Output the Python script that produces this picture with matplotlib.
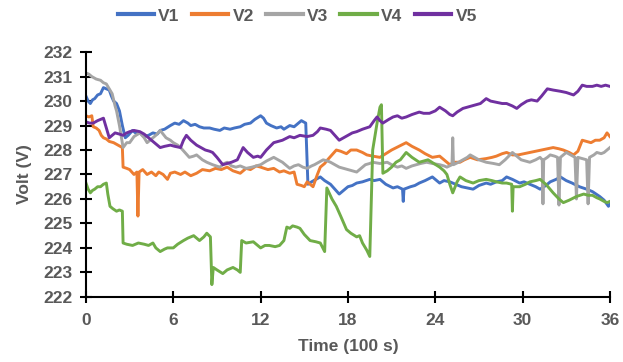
import matplotlib
matplotlib.use("Agg")
import matplotlib.pyplot as plt

plt.rcParams['font.family'] = ['Liberation Sans', 'DejaVu Sans']

# (time in 100 s, voltage in V)
v1_pts = [(0, 230.2), (0.15, 230.0), (0.3, 229.9), (0.45, 230.05), (0.6, 230.1), (0.8, 230.25),
          (1.0, 230.3), (1.2, 230.55), (1.4, 230.5), (1.6, 230.45), (1.75, 230.2), (1.9, 230.0),
          (2.1, 229.9), (2.3, 229.6), (2.5, 229.0), (2.7, 228.5), (2.9, 228.6), (3.2, 228.8),
          (3.5, 228.65), (3.7, 228.7), (4.0, 228.55), (4.3, 228.6), (4.6, 228.7), (4.9, 228.65),
          (5.1, 228.8), (5.4, 228.85), (5.8, 229.0), (6.1, 229.1), (6.4, 229.05), (6.7, 229.2),
          (7.0, 229.1), (7.2, 229.0), (7.5, 229.05), (7.8, 228.95), (8.1, 228.9), (8.5, 228.9),
          (8.8, 228.85), (9.2, 228.8), (9.5, 228.9), (9.9, 228.85), (10.2, 228.9), (10.6, 228.95),
          (10.9, 229.05), (11.3, 229.1), (11.6, 229.25), (12.0, 229.4), (12.2, 229.3), (12.4, 229.1),
          (12.7, 229.0), (13.1, 228.9), (13.4, 228.95), (13.6, 228.85), (14.0, 229.0), (14.3, 228.95),
          (14.5, 229.05), (14.8, 229.2), (15.1, 229.1), (15.25, 226.6), (15.5, 226.7), (15.8, 226.8),
          (16.1, 226.9), (16.4, 226.75), (16.8, 226.6), (17.1, 226.4), (17.4, 226.2), (17.7, 226.35),
          (18.0, 226.5), (18.3, 226.55), (18.6, 226.65), (19.0, 226.7), (19.5, 226.8), (19.8, 226.75),
          (20.2, 226.8), (20.6, 226.6), (21.1, 226.45), (21.4, 226.5), (21.75, 226.4), (21.8, 225.9),
          (21.85, 226.4), (22.3, 226.5), (22.6, 226.55), (22.9, 226.65), (23.3, 226.75), (23.8, 226.9),
          (24.3, 226.65), (24.6, 226.75), (25.0, 226.7), (25.4, 226.6), (25.8, 226.5), (26.2, 226.45),
          (26.6, 226.4), (27.0, 226.55), (27.5, 226.65), (27.8, 226.6), (28.2, 226.7), (28.6, 226.75),
          (28.9, 226.9), (29.3, 226.8), (29.8, 226.65), (30.1, 226.7), (30.5, 226.6), (30.9, 226.5),
          (31.2, 226.4), (31.6, 226.55), (31.9, 226.7), (32.3, 226.8), (32.6, 226.9), (33.0, 226.75),
          (33.4, 226.65), (33.9, 226.5), (34.4, 226.4), (34.8, 226.3), (35.3, 226.1), (35.6, 225.95),
          (35.9, 225.7), (36.0, 225.8)]

v2_pts = [(0, 229.4), (0.2, 229.35), (0.4, 229.4), (0.5, 228.95), (0.7, 228.9), (0.9, 228.8),
          (1.05, 228.6), (1.2, 228.5), (1.4, 228.45), (1.6, 228.35), (1.9, 228.3), (2.2, 228.2),
          (2.5, 228.1), (2.55, 227.3), (2.8, 227.25), (3.0, 227.2), (3.3, 227.0), (3.5, 227.1),
          (3.57, 225.3), (3.65, 227.1), (3.9, 227.2), (4.2, 227.0), (4.5, 227.1), (4.8, 226.95),
          (5.0, 227.1), (5.3, 227.0), (5.6, 226.8), (5.8, 227.05), (6.1, 227.1), (6.5, 227.0),
          (6.8, 227.1), (7.2, 226.95), (7.6, 227.05), (8.0, 227.2), (8.5, 227.15), (8.9, 227.25),
          (9.3, 227.2), (9.7, 227.3), (10.1, 227.15), (10.6, 227.05), (11.0, 227.25), (11.3, 227.2),
          (11.7, 227.35), (12.0, 227.3), (12.5, 227.2), (12.9, 227.25), (13.3, 227.1), (13.6, 227.15),
          (14.0, 227.05), (14.3, 227.1), (14.5, 226.6), (14.8, 226.55), (15.0, 226.5), (15.2, 226.7),
          (15.4, 226.6), (15.6, 226.5), (15.9, 227.0), (16.1, 227.3), (16.4, 227.45), (16.6, 227.6),
          (16.9, 227.8), (17.2, 228.0), (17.5, 227.95), (17.9, 227.85), (18.2, 228.0), (18.6, 228.0),
          (19.0, 227.9), (19.3, 227.8), (19.7, 227.75), (20.2, 227.7), (20.6, 227.85), (21.0, 228.0),
          (21.5, 228.15), (22.0, 228.3), (22.4, 228.15), (22.9, 228.0), (23.3, 227.85), (23.8, 227.7),
          (24.3, 227.75), (24.7, 227.55), (25.0, 227.4), (25.3, 227.5), (25.7, 227.5), (26.0, 227.6),
          (26.4, 227.7), (26.9, 227.6), (27.5, 227.65), (27.9, 227.7), (28.2, 227.75), (28.6, 227.85),
          (28.9, 227.9), (29.3, 227.8), (29.7, 227.8), (30.1, 227.85), (30.5, 227.9), (30.9, 227.95),
          (31.3, 228.0), (31.7, 228.05), (32.1, 228.1), (32.5, 228.05), (32.8, 228.0), (33.2, 227.9),
          (33.5, 227.8), (33.8, 227.95), (34.1, 228.4), (34.4, 228.35), (34.7, 228.3), (35.0, 228.4),
          (35.3, 228.4), (35.6, 228.5), (35.8, 228.7), (36.0, 228.55)]

v3_pts = [(0, 231.15), (0.2, 231.1), (0.4, 231.0), (0.7, 230.9), (1.0, 230.85), (1.2, 230.75),
          (1.4, 230.7), (1.6, 230.5), (1.8, 230.3), (2.0, 229.8), (2.1, 229.6), (2.3, 229.0),
          (2.55, 228.1), (2.8, 228.3), (3.0, 228.3), (3.3, 228.55), (3.7, 228.7), (4.0, 228.5),
          (4.2, 228.3), (4.5, 228.45), (4.8, 228.6), (5.1, 228.8), (5.3, 228.65), (5.5, 228.5),
          (5.8, 228.4), (6.0, 228.3), (6.3, 228.2), (6.5, 228.1), (6.8, 227.9), (7.1, 227.7),
          (7.4, 227.75), (7.6, 227.8), (8.0, 227.6), (8.3, 227.5), (8.7, 227.4), (9.2, 227.3),
          (9.5, 227.45), (9.7, 227.5), (10.0, 227.35), (10.3, 227.3), (10.6, 227.35), (11.0, 227.25),
          (11.4, 227.3), (12.0, 227.4), (12.4, 227.55), (12.9, 227.7), (13.2, 227.6), (13.5, 227.5),
          (13.8, 227.35), (14.0, 227.25), (14.3, 227.35), (14.6, 227.4), (14.9, 227.3), (15.2, 227.25),
          (15.5, 227.35), (15.7, 227.4), (16.0, 227.5), (16.3, 227.6), (16.6, 227.55), (16.8, 227.5),
          (17.1, 227.4), (17.4, 227.3), (17.7, 227.25), (18.0, 227.2), (18.3, 227.15), (18.6, 227.1),
          (18.9, 227.25), (19.2, 227.4), (19.5, 227.45), (19.7, 227.5), (20.2, 227.45), (20.7, 227.5),
          (21.0, 227.4), (21.4, 227.3), (21.7, 227.35), (22.0, 227.25), (22.4, 227.35), (22.7, 227.4),
          (23.0, 227.45), (23.4, 227.5), (23.8, 227.45), (24.3, 227.4), (24.6, 227.35), (24.8, 227.3),
          (25.15, 227.4), (25.2, 228.5), (25.25, 227.4), (25.6, 227.5), (25.9, 227.6), (26.2, 227.7),
          (26.4, 227.8), (26.7, 227.7), (27.0, 227.6), (27.5, 227.5), (28.0, 227.45), (28.4, 227.4),
          (28.8, 227.6), (29.3, 227.9), (29.6, 227.75), (29.9, 227.6), (30.2, 227.55), (30.5, 227.5),
          (30.9, 227.6), (31.2, 227.7), (31.35, 227.6), (31.4, 225.8), (31.45, 227.6), (31.7, 227.7),
          (31.9, 227.8), (32.2, 227.75), (32.4, 227.7), (32.5, 225.75), (32.6, 227.7), (32.8, 227.8),
          (33.0, 227.9), (33.3, 227.8), (33.6, 227.7), (33.7, 226.0), (33.8, 227.7), (34.1, 227.65),
          (34.4, 227.6), (34.5, 225.8), (34.6, 227.7), (34.9, 227.8), (35.1, 227.9), (35.4, 227.85),
          (35.6, 227.9), (35.8, 228.0), (36.0, 228.1)]

v4_pts = [(0, 226.65), (0.15, 226.4), (0.3, 226.25), (0.45, 226.35), (0.6, 226.4), (0.8, 226.5),
          (1.0, 226.5), (1.2, 226.6), (1.4, 226.65), (1.5, 226.2), (1.65, 225.7), (1.85, 225.6),
          (2.1, 225.5), (2.3, 225.55), (2.5, 225.5), (2.55, 224.2), (2.8, 224.15), (3.2, 224.1),
          (3.6, 224.2), (4.0, 224.15), (4.3, 224.1), (4.6, 224.2), (4.8, 224.0), (5.1, 223.85),
          (5.4, 223.95), (5.6, 224.0), (6.0, 224.0), (6.3, 224.15), (6.7, 224.3), (7.0, 224.4),
          (7.4, 224.5), (7.6, 224.4), (7.8, 224.3), (8.1, 224.45), (8.3, 224.6), (8.55, 224.45),
          (8.65, 222.5), (8.75, 223.2), (9.0, 223.1), (9.4, 222.95), (9.7, 223.1), (10.1, 223.2),
          (10.4, 223.1), (10.6, 223.0), (10.7, 224.3), (11.0, 224.2), (11.5, 224.25), (12.0, 224.0),
          (12.3, 224.1), (12.6, 224.1), (13.0, 224.05), (13.3, 224.1), (13.6, 224.3), (13.8, 224.85),
          (14.0, 224.8), (14.2, 224.9), (14.5, 224.85), (14.7, 224.8), (15.0, 224.55), (15.4, 224.3),
          (15.8, 224.25), (16.1, 224.2), (16.4, 223.85), (16.55, 226.45), (16.9, 226.0), (17.2, 225.7),
          (17.5, 225.3), (17.9, 224.75), (18.2, 224.6), (18.6, 224.45), (18.8, 224.5), (19.0, 224.2),
          (19.3, 223.9), (19.5, 223.65), (19.7, 228.0), (20.0, 229.1), (20.2, 229.75), (20.3, 229.85),
          (20.4, 227.05), (20.7, 227.15), (21.0, 227.3), (21.3, 227.5), (21.6, 227.6), (22.0, 227.9),
          (22.4, 227.7), (22.9, 227.5), (23.2, 227.55), (23.5, 227.6), (23.9, 227.45), (24.3, 227.3),
          (24.6, 227.15), (24.8, 227.0), (25.0, 226.6), (25.2, 226.25), (25.5, 226.7), (25.7, 226.9),
          (26.1, 226.75), (26.6, 226.65), (27.0, 226.75), (27.5, 226.8), (27.9, 226.75), (28.2, 226.7),
          (28.6, 226.65), (28.9, 226.65), (29.25, 226.6), (29.3, 225.5), (29.35, 226.5), (29.8, 226.5),
          (30.2, 226.6), (30.5, 226.7), (30.9, 226.75), (31.2, 226.8), (31.6, 226.6), (32.1, 226.25),
          (32.5, 226.0), (32.8, 225.85), (33.2, 225.95), (33.7, 226.1), (34.2, 226.2), (34.5, 226.15),
          (34.8, 226.15), (35.1, 226.05), (35.3, 226.0), (35.6, 225.9), (35.8, 225.85), (36.0, 225.9)]

v5_pts = [(0, 229.15), (0.25, 229.1), (0.5, 229.1), (0.8, 229.2), (1.0, 229.25), (1.2, 229.3),
          (1.4, 228.9), (1.6, 228.5), (1.8, 228.6), (2.0, 228.7), (2.3, 228.65), (2.55, 228.6),
          (2.8, 228.7), (3.0, 228.75), (3.3, 228.8), (3.7, 228.75), (4.0, 228.65), (4.2, 228.55),
          (4.5, 228.4), (4.7, 228.3), (5.1, 228.1), (5.4, 228.15), (5.8, 228.2), (6.1, 228.15),
          (6.5, 228.1), (6.7, 228.4), (6.9, 228.6), (7.2, 228.4), (7.6, 228.2), (7.9, 228.1),
          (8.2, 228.0), (8.5, 227.95), (8.7, 227.9), (9.0, 227.7), (9.4, 227.4), (9.7, 227.45),
          (10.0, 227.5), (10.4, 227.6), (10.6, 227.85), (10.8, 228.1), (11.1, 227.9), (11.5, 227.7),
          (11.8, 227.75), (12.0, 227.7), (12.4, 228.0), (12.9, 228.3), (13.2, 228.35), (13.5, 228.4),
          (14.0, 228.55), (14.3, 228.5), (14.7, 228.6), (15.2, 228.55), (15.6, 228.6), (15.9, 228.75),
          (16.1, 228.9), (16.5, 228.85), (16.8, 228.8), (17.1, 228.6), (17.4, 228.4), (17.7, 228.5),
          (18.0, 228.6), (18.3, 228.7), (18.6, 228.75), (19.0, 228.85), (19.5, 228.95), (19.8, 229.2),
          (20.0, 229.35), (20.2, 229.2), (20.4, 229.1), (20.8, 229.25), (21.1, 229.35), (21.4, 229.4),
          (21.7, 229.3), (22.0, 229.35), (22.4, 229.45), (22.9, 229.55), (23.2, 229.5), (23.6, 229.5),
          (24.0, 229.6), (24.3, 229.75), (24.7, 229.6), (25.0, 229.45), (25.2, 229.4), (25.5, 229.55),
          (25.9, 229.7), (26.2, 229.75), (26.5, 229.8), (26.8, 229.85), (27.1, 229.9), (27.3, 230.0),
          (27.5, 230.1), (27.8, 230.0), (28.2, 229.95), (28.6, 229.9), (28.9, 229.9), (29.3, 229.8),
          (29.6, 229.7), (29.9, 229.85), (30.3, 230.0), (30.6, 230.05), (31.0, 230.0), (31.3, 230.2),
          (31.7, 230.5), (32.1, 230.45), (32.6, 230.4), (33.0, 230.35), (33.5, 230.25), (33.8, 230.4),
          (34.1, 230.65), (34.4, 230.6), (34.8, 230.6), (35.1, 230.65), (35.4, 230.6), (35.7, 230.65),
          (36.0, 230.6)]

labels = ["V1", "V2", "V3", "V4", "V5"]
colors = ["#4472C4", "#ED7D31", "#A5A5A5", "#70AD47", "#7030A0"]
xticks = [0, 6, 12, 18, 24, 30, 36]
yticks = list(range(222, 233))

fig = plt.figure(figsize=(6.23, 3.62), dpi=100)
ax = fig.add_axes([0.138, 0.180, 0.841, 0.676])

for pts, lab, col in zip([v1_pts, v2_pts, v3_pts, v4_pts, v5_pts], labels, colors):
    t, v = zip(*pts)
    ax.plot(t, v, color=col, lw=2.1, label=lab)

ax.set_xlim(0, 36)
ax.set_ylim(222, 232)
ax.set_xticks(xticks)
ax.set_yticks(yticks)
for s in ["top", "right"]:
    ax.spines[s].set_visible(False)
for s in ["left", "bottom"]:
    ax.spines[s].set_linewidth(1.5)
    ax.spines[s].set_color("black")
ax.tick_params(direction="inout", length=9, width=1.5, colors="black",
               labelcolor="#595959", labelsize=12.5)
ax.tick_params(axis="x", pad=7)
ax.tick_params(axis="y", pad=5)
for lbl in ax.get_xticklabels() + ax.get_yticklabels():
    lbl.set_fontweight("bold")

ax.set_xlabel("Time (100 s)", fontsize=12.5, fontweight="bold", color="#595959", labelpad=8)
ax.set_ylabel("Volt (V)", fontsize=12.5, fontweight="bold", color="#595959", labelpad=8)

leg = fig.legend(loc="upper center", bbox_to_anchor=(0.477, 1.02), ncol=5, frameon=False,
                 handlelength=2.1, columnspacing=0.7, handletextpad=0.25,
                 prop={"weight": "bold", "size": 12.5})
for txt in leg.get_texts():
    txt.set_color("#595959")
for line in leg.get_lines():
    line.set_linewidth(3)

fig.savefig("out.png", dpi=100)
